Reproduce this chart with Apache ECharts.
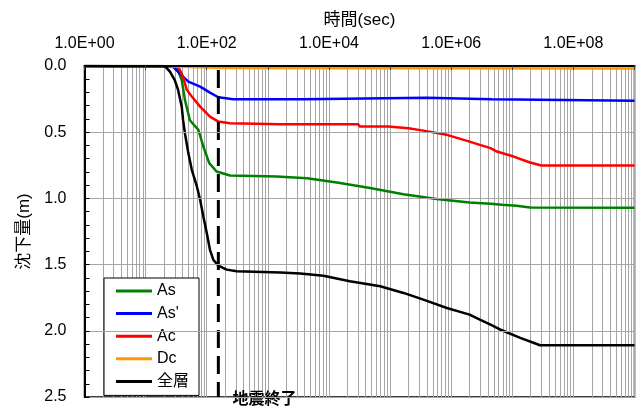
<!DOCTYPE html>
<html>
<head>
<meta charset="utf-8">
<script src="https://cdn.jsdelivr.net/npm/echarts@6/dist/echarts.min.js"></script>
<style>
html,body{margin:0;padding:0;background:#fff;}
#chart{width:639px;height:412px;}
</style>
</head>
<body>
<div id="chart"></div>
<script>
// ---- data (time in sec, settlement in m) ----
const seriesNames = ['As', "As'", 'Ac', 'Dc', '全層'];

const asTime  = [1, 32, 39, 44, 53, 73, 88, 110, 145, 240, 1400, 4400, 13500, 47000, 166000, 575000, 2.0e6, 4.4e6, 6.8e6, 1.17e7, 1.95e7, 1e9];
const asVal   = [0, 0.005, 0.106, 0.256, 0.41, 0.483, 0.608, 0.734, 0.797, 0.827, 0.835, 0.847, 0.88, 0.922, 0.968, 1.005, 1.031, 1.04, 1.048, 1.056, 1.068, 1.07];

const as2Time = [1, 28, 36, 50, 78, 113, 155, 272, 3800, 4000, 400000, 420000, 4.6e6, 4.9e6, 1e9];
const as2Val  = [0, 0.005, 0.055, 0.118, 0.156, 0.201, 0.236, 0.251, 0.251, 0.24, 0.24, 0.251, 0.251, 0.262, 0.262];

const acTime  = [1, 34, 41, 47, 57, 78, 113, 155, 240, 1600, 30000, 32000, 93000, 200000, 351000, 850000, 2.0e6, 2.95e6, 4.4e6, 5.6e6, 1.05e7, 1.95e7, 3.0e7, 1e9];
const acVal   = [0, 0.005, 0.08, 0.18, 0.23, 0.307, 0.382, 0.42, 0.432, 0.44, 0.44, 0.457, 0.457, 0.47, 0.488, 0.52, 0.571, 0.596, 0.62, 0.646, 0.684, 0.729, 0.752, 0.752];

const dcTime  = [1, 22, 40, 100, 200, 1e9];
const dcVal   = [0, 0, 0.006, 0.012, 0.016, 0.018];

const allTime = [1, 19, 21, 25, 30, 34, 39, 41, 44, 50, 57, 69, 78, 88, 100, 113, 128, 155, 212, 309, 1600, 3400, 8100, 22000, 69000, 166000, 351000, 850000, 2.0e6, 2.95e6, 4.4e6, 6.3e6, 1.35e7, 2.85e7, 1e9];
const allVal  = [0, 0, 0.005, 0.043, 0.106, 0.181, 0.307, 0.407, 0.508, 0.658, 0.784, 0.91, 1.01, 1.136, 1.26, 1.388, 1.463, 1.508, 1.538, 1.551, 1.559, 1.568, 1.584, 1.626, 1.664, 1.714, 1.765, 1.828, 1.878, 1.915, 1.953, 1.99, 2.054, 2.109, 2.109];

const quakeEndTime = 155;
const quakeLabel = '地震終了';

const xMin = 1, xMax = 1e9;
const yMin = 0, yMax = 2.5, yStep = 0.5;

const xTitle = '時間(sec)';
const yTitle = '沈下量(m)';

// ---- build ----
const colors = ['#008000', '#0000ff', '#ff0000', '#ff9900', '#000000'];
const pairs = (t, v) => t.map((x, i) => [x, v[i]]);
const seriesData = [pairs(asTime, asVal), pairs(as2Time, as2Val), pairs(acTime, acVal), pairs(dcTime, dcVal), pairs(allTime, allVal)];

// vertical log gridlines (1..9 x 10^n)
const gridX = [];
for (let e = 0; e < 9; e++) {
  for (let k = 1; k <= 9; k++) gridX.push({ xAxis: k * Math.pow(10, e) });
}
gridX.push({ xAxis: 1e9 });

const FONT = "'Liberation Sans', Arial, 'Noto Sans CJK JP', sans-serif";

const series = seriesData.map((d, i) => ({
  name: seriesNames[i],
  type: 'line',
  data: d,
  showSymbol: false,
  symbol: 'none',
  lineStyle: { color: colors[i], width: 2.5 },
  itemStyle: { color: colors[i] },
  z: 3,
  animation: false
}));

series.unshift({
  name: '_grid',
  type: 'line',
  data: [],
  silent: true,
  markLine: {
    silent: true,
    symbol: 'none',
    z: 1,
    label: { show: false },
    lineStyle: { color: '#a6a6a6', width: 1, type: 'solid' },
    emphasis: { disabled: true },
    animation: false,
    data: gridX
  }
});

series.push({
  name: '_quake',
  type: 'line',
  data: [[quakeEndTime, yMin], { value: [quakeEndTime, yMax], label: { show: true } }],
  symbol: 'circle',
  symbolSize: 0.1,
  showSymbol: true,
  lineStyle: { color: '#000', width: 3, type: [18, 8], dashOffset: -4 },
  itemStyle: { color: '#000' },
  label: {
    show: false,
    position: 'right',
    distance: 14,
    offset: [0, 3],
    formatter: quakeLabel,
    fontFamily: FONT,
    fontSize: 16,
    fontWeight: 'bold',
    color: '#000'
  },
  z: 4,
  animation: false
});

const chart = echarts.init(document.getElementById('chart'), null, { renderer: 'canvas' });
chart.setOption({
  animation: false,
  backgroundColor: '#fff',
  textStyle: { fontFamily: FONT },
  grid: {
    left: 84.5, right: 4.5, top: 66, bottom: 15,
    outerBoundsMode: 'none',
    containLabel: false,
    show: true, borderColor: '#000', borderWidth: 1.5, backgroundColor: 'transparent'
  },
  legend: {
    data: seriesNames,
    orient: 'vertical',
    left: 104, top: 278,
    padding: [5, 10, 6, 12],
    itemGap: 6.6,
    itemWidth: 36, itemHeight: 3,
    icon: 'rect',
    borderColor: '#000', borderWidth: 1,
    backgroundColor: '#fff',
    textStyle: { fontFamily: FONT, fontSize: 16, color: '#000' },
    selectedMode: false
  },
  xAxis: {
    type: 'log',
    logBase: 10,
    position: 'top',
    min: xMin, max: xMax,
    name: xTitle,
    nameLocation: 'middle',
    nameGap: 37,
    nameTextStyle: { fontFamily: FONT, fontSize: 17, color: '#000' },
    axisLine: { show: true, lineStyle: { color: '#000', width: 2 } },
    axisTick: { show: true, inside: true, length: 4, interval: 0, lineStyle: { color: '#444' } },
    axisLabel: {
      interval: 0,
      hideOverlap: false,
      showMinLabel: true,
      showMaxLabel: true,
      fontFamily: FONT, fontSize: 16, color: '#000', margin: 14,
      formatter: v => {
        const e = Math.round(Math.log10(v));
        if (e % 2 !== 0) return '';
        return '1.0E+' + (e < 10 ? '0' : '') + e;
      }
    },
    splitLine: { show: false },
    z: 5
  },
  yAxis: {
    type: 'value',
    inverse: true,
    min: yMin, max: yMax, interval: yStep,
    name: yTitle,
    nameLocation: 'middle',
    nameGap: 52,
    nameRotate: 90,
    nameTextStyle: { fontFamily: FONT, fontSize: 17, color: '#000' },
    axisLine: { show: true, lineStyle: { color: '#000', width: 2 } },
    axisTick: { show: true, inside: true, length: 5, lineStyle: { color: '#000' } },
    minorTick: { show: true, splitNumber: 5, length: 5, lineStyle: { color: '#000' } },
    axisLabel: {
      fontFamily: FONT, fontSize: 16, color: '#000', margin: 18,
      formatter: v => v.toFixed(1)
    },
    splitLine: { show: true, lineStyle: { color: '#a6a6a6', width: 1 } },
    z: 5
  },
  series: series
});
</script>
</body>
</html>
